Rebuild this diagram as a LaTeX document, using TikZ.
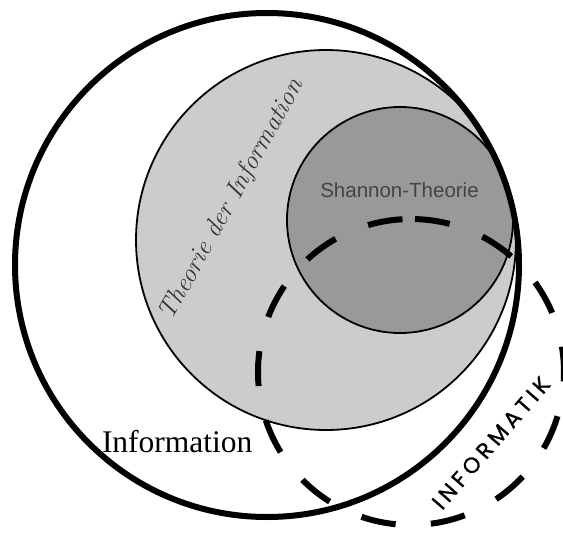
\documentclass[tikz,border=0pt]{standalone}
\usepackage{fontspec}
\newfontfamily\timesfont{Liberation Serif}
\newfontfamily\shannonfont{Liberation Sans}
\newfontfamily\infofont[LetterSpace=20, FakeBold=1.2]{Poppins}
\definecolor{lightfill}{rgb}{0.8,0.8,0.8}
\definecolor{darkfill}{rgb}{0.6,0.6,0.6}
\definecolor{textgray}{rgb}{0.27,0.27,0.27}
\definecolor{caltext}{rgb}{0.2,0.2,0.2}
\tikzset{
  thinring/.style={line width=1.8pt, draw=black},
  thickring/.style={line width=6pt, draw=black},
  dashring/.style={line width=6pt, draw=black, dash pattern=on 35pt off 35.3pt},
  lbl/.style={inner sep=0pt, outer sep=0pt}
}
\begin{document}
\begin{tikzpicture}[x=1pt,y=-1pt]
\useasboundingbox (0,0) rectangle (563,533);
\fill[white] (0,0) rectangle (563,533);
% circles
\coordinate (cTheo) at (326,240);
\coordinate (cShan) at (400,220);
\coordinate (cInfo) at (267,265);
\coordinate (cInfk) at (411,372);
\filldraw[thinring, fill=lightfill] (cTheo) circle (190);
\filldraw[thinring, fill=darkfill] (cShan) circle (113);
\draw[thickring] (cInfo) circle (252);
\draw[dashring] (cInfk) ++(-88.5:153) arc[start angle=-88.5, end angle=271.5, radius=153];
% labels
\node[lbl, font=\timesfont\fontsize{31.5}{31}\selectfont, anchor=base west] (info) at (102,452) {Information};
\node[lbl, font=\shannonfont\fontsize{20.5}{20}\selectfont, text=textgray, anchor=base] (shannon) at (399.5,197) {Shannon-Theorie};
\node[lbl, font=\itshape\fontsize{26}{26}\selectfont, text=caltext, rotate=61] (theorie) at (232,200) {Theorie der Information};
\node[lbl, font=\infofont\fontsize{22}{22}\selectfont, rotate=49] (informatik) at (491,443) {INFORMATIK};
\end{tikzpicture}
\end{document}
